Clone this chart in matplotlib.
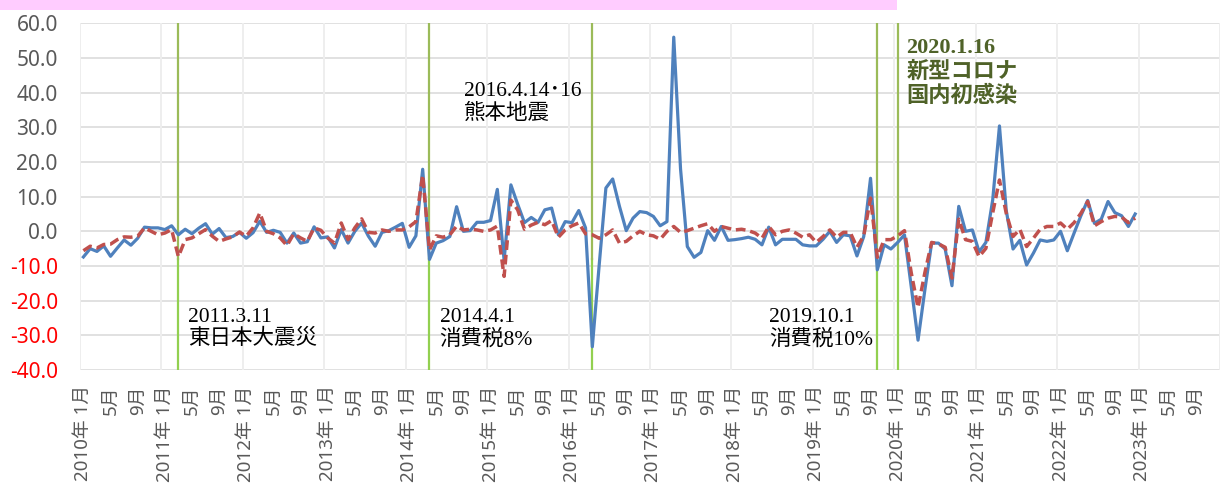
import numpy as np
import matplotlib.pyplot as plt
import matplotlib.patches as mpatches

plt.rcParams['font.family'] = ['Noto Sans', 'Noto Sans CJK JP', 'DejaVu Sans']

# 月次データ 2010年1月〜2022年12月
blue = [
    -7.4, -5.0, -5.8, -4.2, -7.2, -4.8, -2.5, -4.0, -2.0, 1.2, 1.0, 1.0,      # 2010
    0.5, 1.6, -1.0, 0.6, -0.7, 0.9, 2.2, -0.8, 0.8, -1.8, -1.5, -0.3,         # 2011
    -2.0, -0.4, 2.9, -0.3, 0.3, -0.3, -3.4, -0.5, -3.4, -3.0, 1.3, -1.9,      # 2012
    -1.6, -4.8, 0.5, -3.4, 0.0, 2.4, -1.4, -4.3, -0.3, 0.2, 1.2, 2.3,         # 2013
    -4.6, -1.3, 17.9, -8.1, -3.4, -2.7, -1.5, 7.1, 0.0, 0.2, 2.6, 2.6,        # 2014
    3.1, 12.1, -8.3, 13.4, 7.8, 2.5, 4.0, 2.6, 6.2, 6.7, -1.0, 2.8,           # 2015
    2.5, 6.0, 1.0, -33.3, -10.0, 12.5, 15.1, 7.2, 0.2, 3.8, 5.7, 5.4,         # 2016
    4.3, 1.6, 2.8, 56.0, 18.0, -4.4, -7.5, -6.1, 0.2, -2.6, 1.4, -2.6,        # 2017
    -2.4, -2.1, -1.7, -2.3, -3.9, 1.2, -3.9, -2.3, -2.3, -2.3, -3.9, -4.2,    # 2018
    -4.2, -2.3, 0.0, -3.2, -1.0, -1.3, -7.1, -1.5, 15.3, -11.1, -3.9, -5.1,   # 2019
    -3.2, -1.0, -16.0, -31.4, -17.0, -3.4, -3.4, -5.1, -15.7, 7.2, 0.0, 0.4,  # 2020
    -5.9, -3.2, 9.0, 30.4, 6.0, -5.1, -2.6, -9.7, -6.3, -2.5, -2.9, -2.5,     # 2021
    0.0, -5.6, -0.5, 4.5, 8.9, 2.3, 3.5, 8.6, 5.4, 4.5, 1.4, 5.0,             # 2022
]
red = [
    -5.6, -4.3, -4.8, -3.8, -3.7, -2.4, -1.6, -1.7, -1.4, 1.0, 0.0, -1.0,     # 2010
    -0.5, 0.5, -7.3, -2.4, -1.9, -0.7, 0.5, -1.4, -2.9, -2.2, -1.6, -0.2,     # 2011
    -1.4, 1.0, 5.3, 0.0, -0.7, -1.9, -4.1, -0.7, -1.9, -2.9, 1.0, 0.3,        # 2012
    -1.9, -3.4, 2.4, -2.4, 1.0, 3.6, -0.3, -0.5, 0.4, 0.0, 0.4, 0.4,          # 2013
    1.3, 2.8, 16.2, -5.4, -1.3, -1.7, -1.0, 1.5, 0.4, 0.6, 0.4, 0.0,          # 2014
    0.4, 1.5, -13.0, 9.0, 6.2, 0.6, 1.8, 2.6, 1.9, 3.1, -1.7, 0.4,            # 2015
    1.6, 2.4, -0.7, -1.0, -2.0, -1.0, 0.4, -3.4, -2.9, -1.3, 0.0, -1.0,       # 2016
    -1.3, -2.3, 0.0, 1.4, -0.3, 0.2, 0.9, 1.6, 2.2, 0.0, 1.4, 0.9,            # 2017
    0.4, 0.6, 0.2, -0.5, -2.0, 1.4, -1.0, 0.0, 0.4, -0.5, -1.7, -1.0,         # 2018
    -3.2, -1.5, 0.4, -1.7, -0.3, -0.3, -4.6, -1.3, 9.6, -7.5, -2.4, -2.4,     # 2019
    -1.3, 0.2, -12.0, -22.0, -12.0, -3.2, -3.6, -4.6, -13.5, 3.5, -2.4, -2.9, # 2020
    -7.3, -4.9, 5.3, 14.8, 5.2, -1.5, 0.6, -4.4, -2.0, 0.6, 1.4, 1.4,         # 2021
    2.4, 0.6, 2.5, 5.2, 8.6, 1.6, 2.8, 3.8, 4.3, 4.1, 2.5, 3.8,               # 2022
]
years = list(range(2010, 2024))
n_months = len(years) * 12

# イベント線 (月のインデックス)
events = [14, 51, 75, 117, 120]
# 注記 (x, y, テキスト)
notes = [
    (15.4, -22.0, '2011.3.11\n東日本大震災'),
    (52.5, -22.0, '2014.4.1\n消費税8%'),
    (56.1, 43.0, '2016.4.14･16\n熊本地震'),
    (101.1, -22.0, '2019.10.1\n消費税10%'),
]
corona_note = '2020.1.16\n新型コロナ\n国内初感染'

##################################################
fig = plt.figure(figsize=(12.3, 4.86), dpi=100)
ax = fig.add_axes([80 / 1230, 1 - 370 / 486, 1140 / 1230, 346.7 / 486])

# 上部のピンクの帯
fig.patches.append(mpatches.Rectangle((0, 1 - 10 / 486), 897 / 1230, 10 / 486,
                                      transform=fig.transFigure, fc='#FFCCFF', ec='none'))

x = np.arange(len(blue))
ax.set_xlim(-0.5, n_months - 0.5)
ax.set_ylim(-40, 60)

# グリッド
for v in range(-40, 61, 10):
    ax.axhline(v, color='#D9D9D9', lw=1.1, zorder=0)
for k in range(len(years) + 1):
    ax.axvline(k * 12 - 0.5, color='#EEEEEE', lw=1.4, zorder=0)

# イベント線
for e in events:
    ax.plot([e, e], [-40, -8], color='#92D050', lw=1.6, zorder=1)
    ax.plot([e, e], [-8, 60], color='#9BBB59', lw=1.6, zorder=1)

ax.plot(x, blue, color='#4F81BD', lw=2.3, zorder=3)
ax.plot(x, red, color='#C0504D', lw=2.5, ls=(0, (2.8, 1.4)), zorder=4)

for s in ax.spines.values():
    s.set_visible(False)

# y軸
ax.set_yticks(range(-40, 61, 10))
ax.set_yticklabels([f'{v:.1f}' for v in range(-40, 61, 10)], fontsize=15)
for t, v in zip(ax.get_yticklabels(), range(-40, 61, 10)):
    t.set_color('#FF0000' if v < 0 else '#595959')
ax.tick_params(axis='y', length=0, pad=16)

# x軸
ticks = list(range(0, n_months, 4))
labels = []
for i in ticks:
    m = i % 12 + 1
    if m == 1:
        labels.append(f'{years[i // 12]}年 1月')
    else:
        labels.append(f'{m}月')
ax.set_xticks(ticks)
ax.set_xticklabels(labels, rotation=90, fontsize=13.5, color='#595959')
ax.tick_params(axis='x', length=0, pad=11)

serif = ['Liberation Serif', 'Noto Sans CJK JP']
for nx, ny, txt in notes:
    ax.text(nx, ny, txt, ha='left', va='top', fontsize=15.5, family=serif,
            linespacing=1.15, zorder=5)
ax.text(121.3, 55.8, corona_note, ha='left', va='top', fontsize=16,
        family=serif, fontweight='bold', color='#4F6228', linespacing=1.2, zorder=5)

fig.savefig('out.png', dpi=100)
